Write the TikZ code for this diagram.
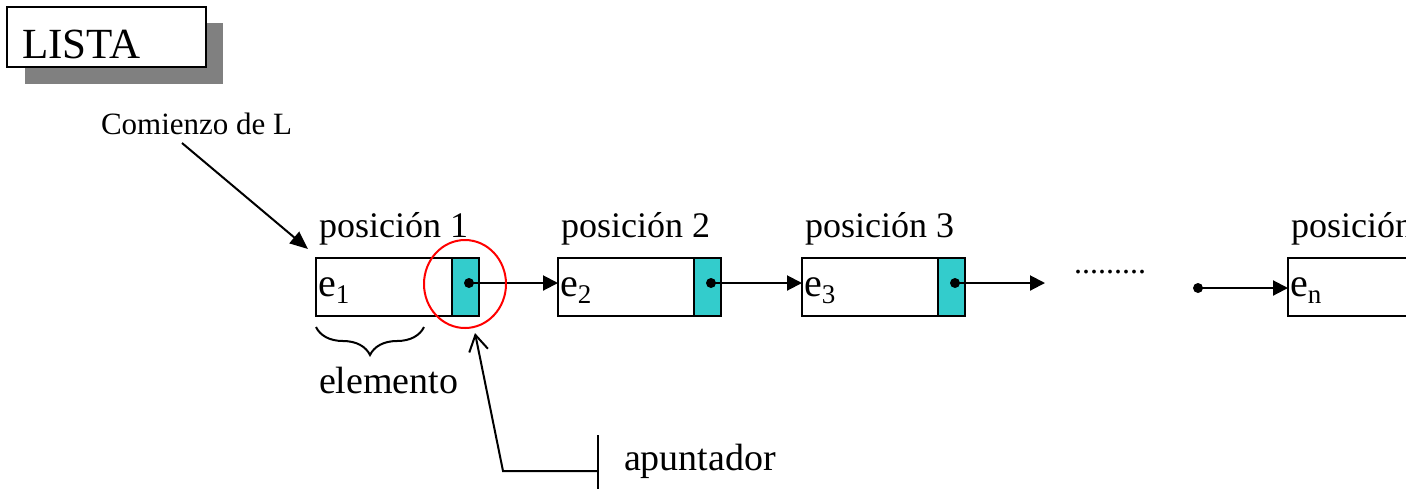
\documentclass[tikz,border=0pt]{standalone}
\usepackage{fontspec}
\setmainfont{Liberation Serif}
\usetikzlibrary{arrows.meta,decorations.pathreplacing,shapes.geometric}
\definecolor{celda}{RGB}{51,204,204}
\definecolor{sombra}{RGB}{128,128,128}
\newcommand{\elem}[1]{e\raisebox{-3.5pt}{\fontsize{13.5}{14}\selectfont #1}}

\begin{document}
\begin{tikzpicture}[x=0.5pt,y=-0.5pt,line width=1pt,
  texto/.style={anchor=base west,inner sep=0pt},
  dato/.style={draw,minimum width=68pt,minimum height=29pt,inner sep=0pt,outer sep=0pt},
  enlace/.style={draw,fill=celda,minimum width=13.5pt,minimum height=29pt,inner sep=0pt,outer sep=0pt},
  punto/.style={circle,fill,inner sep=0pt,minimum size=5pt},
  flecha/.style={-{Triangle[length=7.5pt,width=7.5pt]}}]
\useasboundingbox (0,0) rectangle (1406,489);
\clip (0,0) rectangle (1406,489);

\fill[sombra] (25,23) rectangle (223,84);
\node[draw,fill=white,minimum width=99.5pt,minimum height=30pt,inner sep=0pt] (lista) at (106.5,37) {};
\node[texto,font=\fontsize{21.5}{24}\selectfont] (titulo) at (21,58) {LISTA};

\node[texto,font=\fontsize{15.5}{18}\selectfont] (comienzo) at (100,134) {Comienzo de L};
\coordinate (c0) at (182,143);
\coordinate (c1) at (308,249);
\draw[-{Triangle[length=9pt,width=7.5pt]}] (c0) -- (c1);

\foreach \i/\x in {1/316,2/558,3/802} {
  \node[dato] (d\i) at (\x+68,287) {};
  \node[enlace] (s\i) at (\x+149.5,287) {};
  \node[punto] (p\i) at (\x+153,283) {};
  \node[texto,font=\fontsize{20}{22}\selectfont] (e\i) at (\x+1,296) {\elem{\i}};
  \node[texto,font=\fontsize{18}{20}\selectfont] (pos\i) at (\x+2,237) {posición \i};
}
\node[dato] (dn) at (1356,287) {};
\node[texto,font=\fontsize{20}{22}\selectfont] (en) at (1289,296) {\elem{n}};
\node[texto,font=\fontsize{18}{20}\selectfont] (posn) at (1290,237) {posición};
\node[punto] (pn) at (1198,288) {};

\draw[flecha] (p1.center) -- (p1.center -| d2.west);
\draw[flecha] (p2.center) -- (p2.center -| d3.west);
\coordinate (fin) at (1045,283);
\draw[flecha] (p3.center) -- (fin);
\draw[flecha] (pn.center) -- (pn.center -| dn.west);
\node[texto,font=\fontsize{16}{18}\selectfont] (puntos) at (1073,273) {.........};

\draw[decorate,decoration={brace,amplitude=14pt,mirror}] (316,327) -- (424,327);
\node[texto,font=\fontsize{19}{21}\selectfont] (elemento) at (318,393) {elemento};

\node[draw=red,ellipse,minimum width=41pt,minimum height=44pt,inner sep=0pt] (marca) at (465,284) {};

\coordinate (a0) at (598,471);
\coordinate (a1) at (503,471);
\coordinate (a2) at (475,333);
\draw[-{Straight Barb[length=8pt,width=9.5pt]}] (a0) -- (a1) -- (a2);
\draw (598,435) -- (598,489);
\node[texto,font=\fontsize{19}{21}\selectfont] (apuntador) at (623,470) {apuntador};
\end{tikzpicture}
\end{document}
